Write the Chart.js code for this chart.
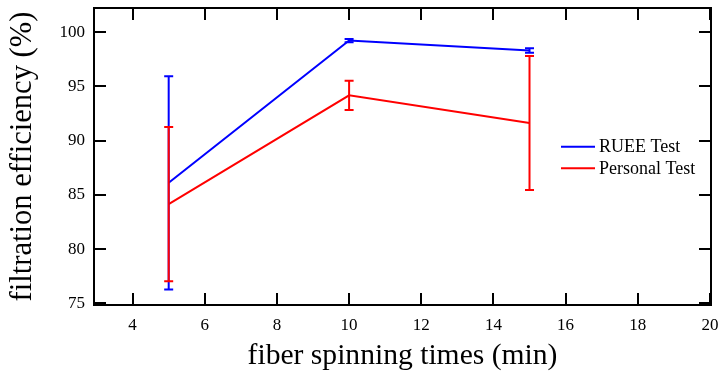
<!DOCTYPE html>
<html><head><meta charset="utf-8">
<script src="https://cdn.jsdelivr.net/npm/chart.js@4.4.0/dist/chart.umd.min.js"></script>
<style>html,body{margin:0;padding:0;background:#fff;}#wrap{width:718px;height:374px;}</style>
</head><body><div id="wrap"><canvas id="c" width="718" height="374"></canvas></div>
<script>
const spinTimes = [5, 10, 15];
const rueeValues = [86.12, 99.23, 98.31];
const rueeErrors = [9.83, 0.15, 0.2];
const personalValues = [84.16, 94.18, 91.63];
const personalErrors = [7.1, 1.34, 6.18];
const seriesLabels = ['RUEE Test', 'Personal Test'];
const seriesColors = ['#0000ff', '#ff0000'];
const xTickValues = [4, 6, 8, 10, 12, 14, 16, 18, 20];
const yTickValues = [75, 80, 85, 90, 95, 100];
const xTitle = 'fiber spinning times (min)';
const yTitle = 'filtration efficiency (%)';

const SERIF = "'Liberation Serif', 'Times New Roman', serif";

function pts(vals) { return spinTimes.map((t, i) => ({x: t, y: vals[i]})); }

const framePlugin = {
  id: 'frameTicksErr',
  afterDatasetsDraw(chart) {
    const ctx = chart.ctx;
    const xs = chart.scales.x, ys = chart.scales.y;
    ctx.save();
    ctx.lineWidth = 2;
    chart.data.datasets.forEach((ds, di) => {
      ctx.strokeStyle = ds.borderColor;
      ds.data.forEach((p, i) => {
        const e = ds.errors[i];
        const px = xs.getPixelForValue(p.x);
        const yt = ys.getPixelForValue(p.y + e);
        const yb = ys.getPixelForValue(p.y - e);
        ctx.beginPath();
        ctx.moveTo(px, yt); ctx.lineTo(px, yb);
        ctx.moveTo(px - 4.5, yt); ctx.lineTo(px + 4.5, yt);
        ctx.moveTo(px - 4.5, yb); ctx.lineTo(px + 4.5, yb);
        ctx.stroke();
      });
    });
    ctx.restore();
  },
  afterDraw(chart) {
    const ctx = chart.ctx;
    const a = chart.chartArea;
    const xs = chart.scales.x, ys = chart.scales.y;
    ctx.save();
    ctx.strokeStyle = '#000';
    ctx.lineWidth = 2;
    ctx.strokeRect(a.left, a.top, a.right - a.left, a.bottom - a.top);
    const tl = 12;
    ctx.beginPath();
    xs.ticks.forEach(t => {
      const px = Math.round(xs.getPixelForValue(t.value));
      ctx.moveTo(px, a.bottom); ctx.lineTo(px, a.bottom - tl);
      ctx.moveTo(px, a.top); ctx.lineTo(px, a.top + tl);
    });
    ys.ticks.forEach(t => {
      const py = Math.round(ys.getPixelForValue(t.value));
      ctx.moveTo(a.left, py); ctx.lineTo(a.left + tl, py);
      ctx.moveTo(a.right, py); ctx.lineTo(a.right - tl, py);
    });
    ctx.stroke();
    // legend
    ctx.font = '18px ' + SERIF;
    ctx.textBaseline = 'middle';
    ctx.textAlign = 'left';
    const lx0 = 561, lx1 = 595, ly = [146.7, 168.3];
    chart.data.datasets.forEach((ds, i) => {
      ctx.strokeStyle = ds.borderColor;
      ctx.lineWidth = 2;
      ctx.beginPath();
      ctx.moveTo(lx0, ly[i]); ctx.lineTo(lx1, ly[i]);
      ctx.stroke();
      ctx.fillStyle = '#000';
      ctx.fillText(ds.label, 599, ly[i] + 1);
    });
    ctx.restore();
  }
};

new Chart(document.getElementById('c'), {
  type: 'line',
  data: {
    datasets: [
      {label: seriesLabels[0], data: pts(rueeValues), errors: rueeErrors, borderColor: seriesColors[0], borderWidth: 2, pointRadius: 0, fill: false, tension: 0},
      {label: seriesLabels[1], data: pts(personalValues), errors: personalErrors, borderColor: seriesColors[1], borderWidth: 2, pointRadius: 0, fill: false, tension: 0}
    ]
  },
  options: {
    responsive: false,
    devicePixelRatio: 1,
    animation: false,
    layout: {padding: {left: 0, right: 7, top: 8, bottom: 0}},
    plugins: {legend: {display: false}, tooltip: {enabled: false}},
    scales: {
      x: {
        type: 'linear', position: 'bottom', min: 2.93, max: 20.03,
        afterBuildTicks: s => { s.ticks = xTickValues.map(v => ({value: v})); },
        afterFit: s => { s.height = 69; s.paddingLeft = 0; s.paddingRight = 0; },
        grid: {display: false, drawTicks: false},
        border: {display: false},
        ticks: {color: '#000', padding: 10, font: {family: SERIF, size: 17}, maxRotation: 0, autoSkip: false},
        title: {display: true, text: xTitle, color: '#000', font: {family: SERIF, size: 29.6, lineHeight: 1}, padding: {top: 0, bottom: 3}}
      },
      y: {
        type: 'linear', position: 'left', min: 74.86, max: 102.23,
        afterBuildTicks: s => { s.ticks = yTickValues.map(v => ({value: v})); },
        afterFit: s => { s.width = 94; s.paddingTop = 0; s.paddingBottom = 0; },
        grid: {display: false, drawTicks: false},
        border: {display: false},
        ticks: {color: '#000', padding: 9, font: {family: SERIF, size: 17}, autoSkip: false},
        title: {display: true, text: yTitle, color: '#000', font: {family: SERIF, size: 30.6, lineHeight: 1}, padding: {top: 8, bottom: 0}}
      }
    }
  },
  plugins: [framePlugin]
});
</script></body></html>
